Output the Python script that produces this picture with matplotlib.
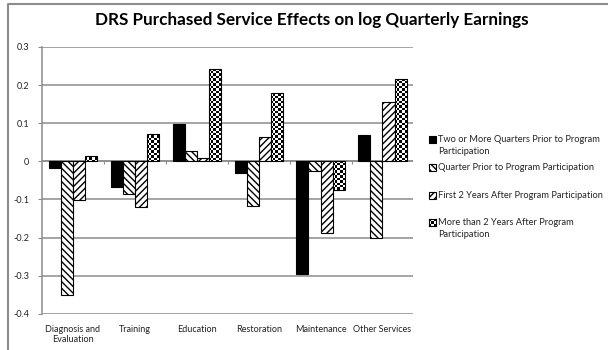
import numpy as np
import matplotlib
matplotlib.use("Agg")
from matplotlib import pyplot as plt
from matplotlib.patches import Rectangle
from matplotlib.lines import Line2D

# effects of DRS purchased services on log quarterly earnings
services = ["Diagnosis and\nEvaluation", "Training", "Education",
            "Restoration", "Maintenance", "Other Services"]
two_or_more_prior = [-0.017, -0.066, 0.098, -0.030, -0.294, 0.070]
quarter_prior = [-0.350, -0.086, 0.026, -0.117, -0.026, -0.200]
first_2_years = [-0.102, -0.120, 0.008, 0.064, -0.188, 0.155]
more_than_2_years = [0.014, 0.072, 0.243, 0.180, -0.076, 0.216]

series_labels = ["Two or More Quarters Prior to Program\nParticipation",
                 "Quarter Prior to Program Participation",
                 "First 2 Years After Program Participation",
                 "More than 2 Years After Program\nParticipation"]

y_ticks = [0.3, 0.2, 0.1, 0, -0.1, -0.2, -0.3, -0.4]

plt.rcParams['font.family'] = ['Lato', 'DejaVu Sans']
plt.rcParams['hatch.linewidth'] = 1.0

grid_gray = '#8c8c8c'
W, H = 608, 350

fig = plt.figure(figsize=(6.08, 3.5), dpi=100)
ax = fig.add_axes([0.069, 0.103, 0.611, 0.763])

x = np.arange(len(services))
width = 0.195
offsets = [-1.5, -0.5, 0.5, 1.5]

ax.bar(x + offsets[0] * width, two_or_more_prior, width,
       color='black', edgecolor='black', linewidth=0.8, zorder=3)
ax.bar(x + offsets[1] * width, quarter_prior, width, color='white',
       edgecolor='black', hatch='\\\\\\\\\\', linewidth=0.8, zorder=3)
ax.bar(x + offsets[2] * width, first_2_years, width, color='white',
       edgecolor='black', hatch='/////', linewidth=0.8, zorder=3)
checker_bars = ax.bar(x + offsets[3] * width, more_than_2_years, width,
                      facecolor='none', edgecolor='black', linewidth=0.8,
                      zorder=4)

xlim = (-0.5, len(services) - 0.5)
ylim = (-0.4, 0.3)

# checkerboard fill for the last series, clipped to each bar
nx, ny = 150, 108
checker = (np.add.outer(np.arange(ny), np.arange(nx)) % 2).astype(float)
for bar in checker_bars:
    im = ax.imshow(checker, cmap='gray', interpolation='nearest',
                   extent=[xlim[0], xlim[1], ylim[0], ylim[1]],
                   aspect='auto', zorder=3.5)
    im.set_clip_path(bar)

ax.set_xlim(*xlim)
ax.set_ylim(*ylim)

# gridlines and zero line
ax.set_yticks(y_ticks)
ax.set_yticklabels([f"{v:g}" for v in y_ticks])
ax.yaxis.grid(True, color=grid_gray, linewidth=1.1, zorder=1)
ax.axhline(0, color=grid_gray, linewidth=1.1, zorder=2)
bounds = np.arange(len(services) + 1) - 0.5
ax.vlines(bounds[1:-1], -0.007, 0, color=grid_gray, linewidth=0.8, zorder=2)

ax.set_xticks(x)
ax.set_xticklabels(services, fontsize=6.5, color='#222222')
ax.tick_params(axis='x', length=0, pad=8)
ax.tick_params(axis='y', length=3, color=grid_gray, labelsize=6.5,
               labelcolor='#222222', pad=6)

for side in ['top', 'right', 'bottom']:
    ax.spines[side].set_visible(False)
ax.spines['left'].set_color(grid_gray)
ax.spines['left'].set_linewidth(1.1)

fig.text(0.513, 0.942, "DRS Purchased Service Effects on log Quarterly Earnings",
         ha='center', va='center', fontsize=12.3, fontweight='bold')

# legend drawn by hand, one slot per series
slot_y = [140, 167.5, 195, 222.5]
marker_px = 7
for i, (label, y) in enumerate(zip(series_labels, slot_y)):
    x0 = 429 / W
    y0 = 1 - (y + marker_px / 2) / H
    w = marker_px / W
    h = marker_px / H
    if i == 3:
        lax = fig.add_axes([x0, y0, w, h])
        lax.imshow(np.add.outer(np.arange(3), np.arange(3)) % 2,
                   cmap='gray', interpolation='nearest', aspect='auto')
        lax.set_xticks([])
        lax.set_yticks([])
        for sp in lax.spines.values():
            sp.set_linewidth(0.8)
    else:
        style = [dict(facecolor='black'),
                 dict(facecolor='white', hatch='\\\\\\\\\\'),
                 dict(facecolor='white', hatch='/////')][i]
        fig.add_artist(Rectangle((x0, y0), w, h, transform=fig.transFigure,
                                 edgecolor='black', linewidth=0.8, **style))
    fig.text(438 / W, 1 - (y - 4.5) / H, label, ha='left', va='top',
             fontsize=6.7, linespacing=1.4, color='#222222')

# chart frame
fig.add_artist(Line2D([8 / W, 8 / W, 1.0], [0.0, 1 - 4 / H, 1 - 4 / H],
                      transform=fig.transFigure, color='#8c8c8c',
                      linewidth=1.5))

fig.savefig("out.png", dpi=100)
